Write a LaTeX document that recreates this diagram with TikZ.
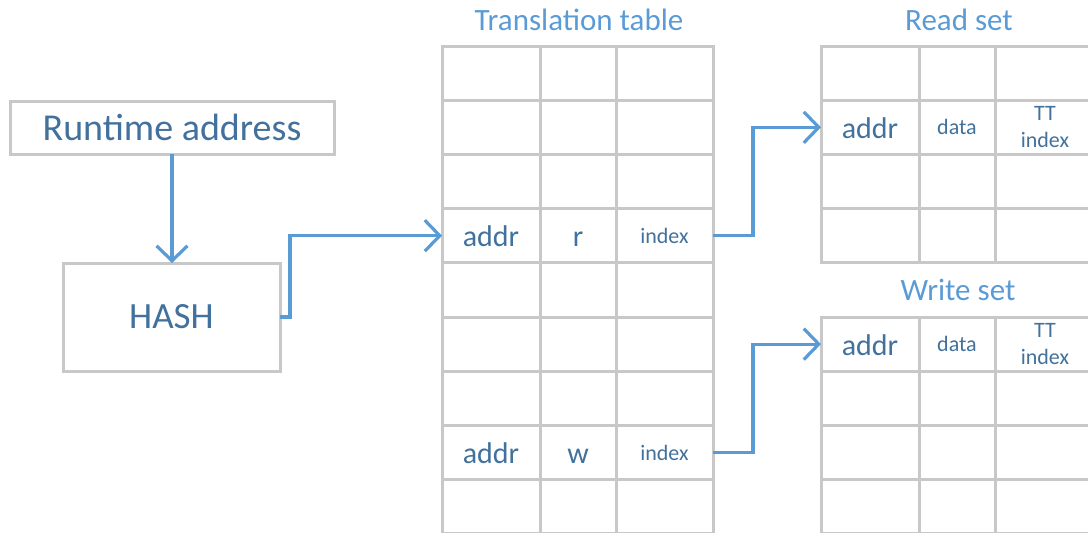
\documentclass[tikz,border=0pt]{standalone}
\usepackage{fontspec}
\setmainfont{Carlito}
\usetikzlibrary{arrows.meta}
\definecolor{gridgray}{HTML}{C8C8C8}
\definecolor{txtblue}{HTML}{41719C}
\definecolor{lineblue}{HTML}{5B9BD5}
\begin{document}
\begin{tikzpicture}[x=1pt,y=-1pt,
  box/.style={draw=gridgray,line width=3pt,inner sep=0pt,outer sep=0pt,text=txtblue},
  cell/.style={box,anchor=north west},
  title/.style={text=lineblue,font=\fontsize{31}{33}\selectfont},
  link/.style={draw=lineblue,line width=3.2pt,
    -{Straight Barb[length=15pt,width=31pt,line width=3.2pt]}},
  big/.style={text=txtblue,font=\fontsize{30}{32}\selectfont,text height=22pt,text depth=0pt},
  small/.style={text=txtblue,font=\fontsize{22}{27}\selectfont,align=center}]
\useasboundingbox (0,0) rectangle (1088,533);

% Runtime address and hash function
\node[box,minimum width=324pt,minimum height=53pt,font=\fontsize{38}{40}\selectfont]
  (rt) at (172,127.5) {Runtime address};
\node[box,minimum width=217pt,minimum height=108pt,font=\fontsize{37}{40}\selectfont]
  (hash) at (171.5,317) {HASH};

% Translation table: 9 rows x 3 columns
\node[title] (tttitle) at (579,20) {Translation table};
\foreach \r in {1,...,9}{
  \pgfmathsetmacro{\y}{46+54.2*(\r-1)}
  \node[cell,minimum width=98pt,minimum height=54.2pt] (tt-\r-1) at (442,\y) {};
  \node[cell,minimum width=76pt,minimum height=54.2pt] (tt-\r-2) at (540,\y) {};
  \node[cell,minimum width=97pt,minimum height=54.2pt] (tt-\r-3) at (616,\y) {};
}
\node[big] at (tt-4-1) {addr};
\node[big] at (tt-4-2) {r};
\node[small] at (tt-4-3) {index};
\node[big] at (tt-8-1) {addr};
\node[big] at (tt-8-2) {w};
\node[small] at (tt-8-3) {index};

% Read set and write set: 4 rows x 3 columns each
\node[title] (rstitle) at (959,20) {Read set};
\node[title] (wstitle) at (958,290) {Write set};
\foreach \s/\top in {rs/46,ws/317}{
  \foreach \r in {1,...,4}{
    \pgfmathsetmacro{\y}{\top+54.2*(\r-1)}
    \node[cell,minimum width=98pt,minimum height=54.2pt] (\s-\r-1) at (821,\y) {};
    \node[cell,minimum width=76pt,minimum height=54.2pt] (\s-\r-2) at (919,\y) {};
    \node[cell,minimum width=100pt,minimum height=54.2pt] (\s-\r-3) at (995,\y) {};
  }
}
\node[big] at (rs-2-1) {addr};
\node[small] at (rs-2-2) {data};
\node[small] at (rs-2-3) {TT\\index};
\node[big] at (ws-1-1) {addr};
\node[small] at (ws-1-2) {data};
\node[small] at (ws-1-3) {TT\\index};

% Connectors
\draw[link] (rt.south) -- (rt.south |- hash.north);
\draw[link] (hash.east) -- ++(10,0) |- (tt-4-1.west);
\draw[link] (tt-4-3.east) -- ++(40,0) |- (rs-2-1.west);
\draw[link] (tt-8-3.east) -- ++(40,0) |- (ws-1-1.west);
\end{tikzpicture}
\end{document}
